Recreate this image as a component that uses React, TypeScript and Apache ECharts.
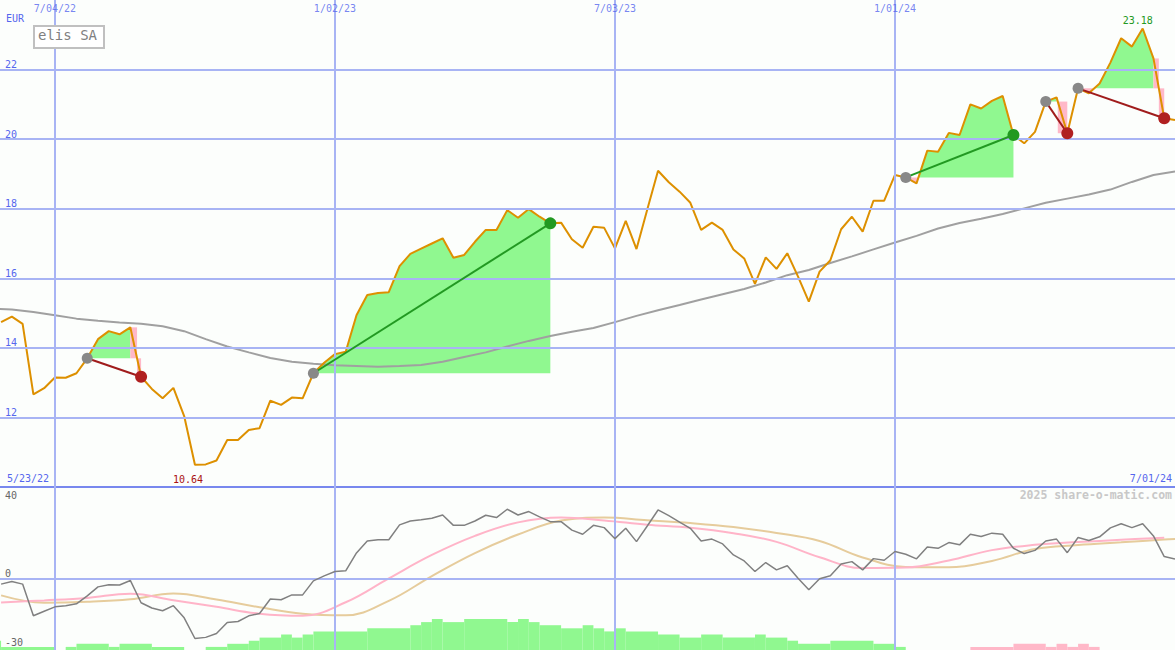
import React, { useEffect, useRef } from "react";
import * as echarts from "echarts";

// ---------- data (x = week index, week 0 = 7/04/22) ----------
const PRICE_FIRST_WEEK = -5;
const price = [
  14.74, 14.9, 14.69, 12.66, 12.84, 13.15, 13.14, 13.27, 13.7, 14.25,
  14.48, 14.39, 14.59, 13.17, 12.82, 12.55, 12.85, 12.04, 10.64, 10.65,
  10.76, 11.35, 11.35, 11.64, 11.69, 12.48, 12.36, 12.57, 12.55, 13.27,
  13.57, 13.82, 13.89, 14.94, 15.52, 15.58, 15.6, 16.35, 16.7, 16.85,
  17.0, 17.15, 16.59, 16.67, 17.05, 17.39, 17.39, 17.96, 17.74, 17.99,
  17.77, 17.58, 17.6, 17.12, 16.88, 17.48, 17.45, 16.86, 17.65, 16.84,
  17.98, 19.09, 18.76, 18.49, 18.17, 17.39, 17.6, 17.39, 16.83, 16.57,
  15.84, 16.6, 16.27, 16.72, 16.05, 15.33, 16.19, 16.52, 17.41, 17.77,
  17.34, 18.23, 18.23, 18.97, 18.9, 18.73, 19.67, 19.64, 20.18, 20.12,
  21.0, 20.88, 21.1, 21.24, 20.12, 19.88, 20.21, 21.08, 21.2, 20.17,
  21.46, 21.32, 21.6, 22.2, 22.9, 22.66, 23.18, 22.32, 20.6, 20.55,
];

const MA_FIRST_WEEK = -6; // every 2 weeks
const movingAverage = [
  15.13, 15.1, 15.03, 14.94, 14.84, 14.78, 14.73, 14.69, 14.62, 14.48,
  14.25, 14.04, 13.87, 13.71, 13.6, 13.54, 13.5, 13.48, 13.46, 13.48,
  13.51, 13.6, 13.74, 13.87, 14.04, 14.2, 14.34, 14.46, 14.57, 14.74,
  14.92, 15.08, 15.23, 15.39, 15.54, 15.69, 15.88, 16.09, 16.24, 16.44,
  16.63, 16.83, 17.03, 17.22, 17.43, 17.59, 17.71, 17.85, 18.01, 18.17,
  18.29, 18.41, 18.55, 18.77, 18.97, 19.07,
];

const MOM_FIRST_WEEK = -5;
const momentum = [
  -2.3, -1.2, -2.3, -16.1, -14.1, -12.2, -11.7, -10.9, -7.4, -3.5,
  -2.6, -2.7, -0.7, -10.4, -12.7, -13.9, -11.7, -17.0, -26.0, -25.5,
  -23.8, -19.0, -18.6, -16.1, -15.1, -8.8, -9.1, -7.0, -7.0, -0.9,
  1.3, 3.2, 3.5, 11.3, 16.5, 17.0, 17.0, 23.5, 25.2, 25.7,
  26.4, 27.8, 23.3, 23.3, 25.2, 27.7, 26.7, 30.3, 27.8, 29.3,
  27.0, 24.9, 24.9, 21.2, 19.4, 23.3, 22.3, 17.5, 22.0, 16.2,
  23.0, 30.0, 27.5, 24.7, 22.0, 16.5, 17.3, 15.2, 10.4, 7.8,
  3.2, 7.1, 3.9, 5.7, 0.3, -4.8, 0.0, 1.3, 6.5, 7.5,
  3.9, 8.8, 8.1, 11.9, 10.7, 8.7, 13.9, 13.3, 15.8, 14.8,
  19.4, 18.4, 19.9, 19.4, 13.3, 11.0, 12.4, 16.5, 17.3, 11.4,
  18.0, 16.7, 18.3, 22.2, 24.0, 22.3, 24.0, 18.7, 9.7, 8.6,
];

const AVG_WEEKS = [-5, -1, 3, 7, 11, 15, 19, 23, 27, 31, 35, 39, 43, 47, 51, 55, 59, 63, 67, 71, 75, 79, 83, 87, 91, 95, 99, 103, 104];
const pinkAverage = [
  -10.3, -9.4, -8.3, -6.5, -9.3, -12.2, -15.2, -16.1, -10.2, 0.2,
  10.4, 18.7, 24.6, 26.7, 25.4, 23.6, 22.3, 19.9, 16.1, 9.4,
  4.7, 4.9, 8.0, 12.5, 14.8, 16.0, 17.0, 17.9,
];
const tanAverage = [
  -7.2, -10.4, -10.0, -8.9, -6.4, -9.0, -12.4, -15.2, -15.9, -9.6,
  1.2, 11.2, 19.3, 25.4, 26.7, 25.5, 24.3, 22.6, 20.0, 16.5,
  9.3, 5.2, 5.0, 7.8, 13.0, 14.7, 15.9, 17.1, 17.3,
];

const BAR_FIRST_WEEK = -6;
const histogram = [
  3, 1, 1, 1, 1, 1, 0, 1, 2, 2,
  2, 1, 2, 2, 2, 1, 1, 1, 0, 0,
  1, 1, 2, 2, 3, 4, 4, 5, 4, 5,
  6, 6, 6, 6, 6, 7, 7, 7, 7, 8,
  9, 10, 9, 9, 10, 10, 10, 10, 9, 10,
  9, 8, 8, 7, 7, 8, 7, 6, 7, 6,
  6, 6, 5, 5, 4, 4, 5, 5, 4, 4,
  4, 5, 4, 4, 3, 2, 2, 2, 3, 3,
  3, 3, 2, 2, 1, 0, 0, 0, 0, 0,
  0, -1, -1, -1, -1, -2, -2, -2, -1, -2,
  -1, -2, -1, 0, 0, 0, 0, 0, 0, 0,
  0,
];

const dateTickWeeks = [0, 26, 52, 78];
const dateTickLabels = ["7/04/22", "1/02/23", "7/03/23", "1/01/24"];
const priceTicks = [12, 14, 16, 18, 20, 22];
const lowerTicks = [-30, 0];

const tradeEntry = [3, 24, 79, 92, 95];
const tradeExit = [8, 46, 89, 94, 103];

const startDate = "5/23/22";
const endDate = "7/01/24";
const title = "elis SA";
const currency = "EUR";
const credit = "2025 share-o-matic.com";

// ---------- styles ----------
const BG = "#fcfefc";
const GRID = "#a8b4f4";
const SEP = "#7888ee";
const BLUE = "#5566ee";
const MONO = "'DejaVu Sans Mono', monospace";
const GREEN_FILL = "#90f890";
const PINK_FILL = "#ffb8c8";

const priceOf = (w: number) => price[w - PRICE_FIRST_WEEK];

function buildOption() {
  const priceData = price.map((v, i) => [i + PRICE_FIRST_WEEK, v]);
  const maData = movingAverage.map((v, i) => [i * 2 + MA_FIRST_WEEK, v]);
  const momData = momentum.map((v, i) => [i + MOM_FIRST_WEEK, v]);
  const pinkData = pinkAverage.map((v, i) => [AVG_WEEKS[i], v]);
  const tanData = tanAverage.map((v, i) => [AVG_WEEKS[i], v]);

  // merge consecutive equal histogram values into runs [startWeek, endWeek, value]
  const histRuns: number[][] = [];
  histogram.forEach((v, i) => {
    const w = i + BAR_FIRST_WEEK;
    const last = histRuns[histRuns.length - 1];
    if (last && last[2] === v && last[1] === w) last[1] = w + 1;
    else histRuns.push([w, w + 1, v]);
  });

  const fillRender = (params: any, api: any) => {
    const idx = api.value(2);
    const e = tradeEntry[idx];
    const x = tradeExit[idx];
    const base = priceOf(e);
    const P = (w: number, v: number) => api.coord([w, v]);
    const children: any[] = [];
    const poly = (pts: number[][], fill: string) =>
      children.push({ type: "polygon", shape: { points: pts }, style: { fill } });
    const rect = (a: number[], b: number[], fill: string) =>
      children.push({
        type: "rect",
        shape: { x: Math.min(a[0], b[0]), y: Math.min(a[1], b[1]), width: Math.abs(b[0] - a[0]), height: Math.abs(b[1] - a[1]) },
        style: { fill },
      });
    let run: { fill: string; pts: number[][]; ws: number; we: number } | null = null;
    const flush = () => {
      if (run) {
        poly([...run.pts, P(run.we, base), P(run.ws, base)], run.fill);
        run = null;
      }
    };
    const extend = (fill: string, w0: number, v0: number, w1: number, v1: number) => {
      if (!run || run.fill !== fill) {
        flush();
        run = { fill, pts: [P(w0, v0)], ws: w0, we: w0 };
      }
      run.pts.push(P(w1, v1));
      run.we = w1;
    };
    for (let w = e; w < x; w++) {
      const p0 = priceOf(w);
      const p1 = priceOf(w + 1);
      const a0 = p0 - base;
      const a1 = p1 - base;
      if (a0 >= 0 && a1 >= 0) {
        extend(GREEN_FILL, w, p0, w + 1, p1);
      } else if (a0 <= 0 && a1 <= 0) {
        extend(PINK_FILL, w, p0, w + 1, p1);
      } else {
        const wc = w + a0 / (a0 - a1);
        if (a0 > 0) {
          flush();
          rect(P(w, p0), P(wc, base), PINK_FILL);
          rect(P(wc, base), P(w + 1, p1), PINK_FILL);
        } else {
          extend(PINK_FILL, w, p0, wc, base);
          flush();
          extend(GREEN_FILL, wc, base, w + 1, p1);
        }
      }
    }
    flush();
    return { type: "group", children };
  };

  const barRender = (params: any, api: any) => {
    const w0 = api.value(0);
    const w1 = api.value(1);
    const v = api.value(2);
    if (!v) return null;
    const a = api.coord([w0, Math.abs(v)]);
    const b = api.coord([w1, 0]);
    return {
      type: "rect",
      shape: { x: a[0], y: a[1], width: b[0] - a[0], height: b[1] - a[1] },
      style: { fill: v > 0 ? GREEN_FILL : PINK_FILL },
    };
  };

  const wins = tradeEntry.map((e, i) => priceOf(tradeExit[i]) > priceOf(e));
  const labelFont = { fontFamily: MONO, fontSize: 10 };

  return {
    animation: false,
    backgroundColor: BG,
    grid: [
      { left: 0, right: 0, top: 0, height: 487 },
      { left: 0, right: 0, top: 487, height: 163 },
    ],
    xAxis: [
      {
        gridIndex: 0, type: "value", min: -5.1, max: 104,
        axisLine: { show: true, onZero: false, lineStyle: { color: SEP, width: 2 } },
        axisTick: { show: false }, axisLabel: { show: false }, splitLine: { show: false },
      },
      {
        gridIndex: 1, type: "value", min: -5.1, max: 104,
        axisLine: { show: false }, axisTick: { show: false }, axisLabel: { show: false }, splitLine: { show: false },
      },
    ],
    yAxis: [
      {
        gridIndex: 0, type: "value", min: 10, max: 24, interval: 2,
        axisLine: { show: false }, axisTick: { show: false }, splitLine: { show: false },
        axisLabel: {
          inside: true, margin: 5, verticalAlign: "bottom", color: BLUE, ...labelFont,
          formatter: (v: number) => (priceTicks.includes(v) ? String(v) : ""),
        },
      },
      {
        gridIndex: 1, type: "value", min: -31, max: 40,
        axisLine: { show: false }, axisTick: { show: false }, splitLine: { show: false },
        axisLabel: {
          inside: true, margin: 5, verticalAlign: "bottom", color: "#666", ...labelFont,
          customValues: lowerTicks,
          formatter: (v: number) => (lowerTicks.includes(v) ? String(v) : ""),
        },
      },
      { gridIndex: 1, type: "value", min: 0, max: 52.6, show: false },
    ],
    graphic: [
      { type: "text", left: 6, top: 13, z: 100, style: { text: currency, font: `10px ${MONO}`, fill: BLUE } },
      { type: "rect", left: 33, top: 25, z: 100, shape: { width: 70, height: 22 }, style: { fill: "#ffffff", stroke: "#c0c0c0", lineWidth: 2 } },
      { type: "text", left: 38, top: 28, z: 101, style: { text: title, font: `14px ${MONO}`, fill: "#808080" } },
      { type: "text", left: 5, top: 490, z: 100, style: { text: "40", font: `10px ${MONO}`, fill: "#666" } },
      { type: "text", left: 7, top: 473, z: 100, style: { text: startDate, font: `10px ${MONO}`, fill: BLUE } },
      { type: "text", right: 3, top: 473, z: 100, style: { text: endDate, font: `10px ${MONO}`, fill: BLUE } },
      { type: "text", right: 3, top: 489, z: 100, style: { text: credit, font: `bold 11.5px ${MONO}`, fill: "#c8c8c8" } },
    ],
    series: [
      {
        name: "grid-main", type: "line", xAxisIndex: 0, yAxisIndex: 0, data: [], z: 1, silent: true,
        markLine: {
          silent: true, symbol: ["none", "none"], label: { show: false },
          lineStyle: { color: GRID, width: 2, type: "solid" },
          data: [...dateTickWeeks.map((w) => ({ xAxis: w })), ...priceTicks.map((v) => ({ yAxis: v }))],
        },
      },
      {
        name: "grid-lower", type: "line", xAxisIndex: 1, yAxisIndex: 1, data: [], z: 1, silent: true,
        markLine: {
          silent: true, symbol: ["none", "none"], label: { show: false },
          lineStyle: { color: GRID, width: 2, type: "solid" },
          data: [...dateTickWeeks.map((w) => ({ xAxis: w })), { yAxis: 0 }],
        },
      },
      {
        name: "fills", type: "custom", xAxisIndex: 0, yAxisIndex: 0, z: 2, silent: true, clip: true,
        renderItem: fillRender,
        data: tradeEntry.map((e, i) => [e, priceOf(e), i]),
      },
      {
        name: "average", type: "line", xAxisIndex: 0, yAxisIndex: 0, z: 3, data: maData,
        symbol: "none", lineStyle: { color: "#a0a0a0", width: 2 }, silent: true,
      },
      {
        name: title, type: "line", xAxisIndex: 0, yAxisIndex: 0, z: 4, data: priceData,
        symbol: "none", lineStyle: { color: "#dd9000", width: 2 }, silent: true,
        markPoint: {
          symbol: "circle", symbolSize: 1, itemStyle: { color: "rgba(0,0,0,0)" }, silent: true,
          data: [
            {
              type: "max", valueDim: "y",
              label: { show: true, position: "top", distance: 3, offset: [-5, 0], color: "#229922", ...labelFont, formatter: (p: any) => Number(p.value).toFixed(2) },
            },
            {
              type: "min", valueDim: "y",
              label: { show: true, position: "bottom", distance: 9, offset: [-7, 0], color: "#aa1111", ...labelFont, formatter: (p: any) => Number(p.value).toFixed(2) },
            },
          ],
        },
      },
      {
        name: "trades", type: "lines", coordinateSystem: "cartesian2d", xAxisIndex: 0, yAxisIndex: 0, z: 5, silent: true,
        lineStyle: { width: 2, opacity: 1 },
        data: tradeEntry.map((e, i) => ({
          coords: [[e, priceOf(e)], [tradeExit[i], priceOf(tradeExit[i])]],
          lineStyle: { color: wins[i] ? "#229922" : "#a01c1c", width: 2, opacity: 1 },
        })),
      },
      {
        name: "entries", type: "scatter", xAxisIndex: 0, yAxisIndex: 0, z: 6, silent: true,
        symbolSize: 11, itemStyle: { color: "#888888", opacity: 1 },
        data: tradeEntry.map((e) => [e, priceOf(e)]),
      },
      {
        name: "exits", type: "scatter", xAxisIndex: 0, yAxisIndex: 0, z: 6, silent: true,
        symbolSize: 12,
        data: tradeExit.map((x, i) => ({ value: [x, priceOf(x)], itemStyle: { color: wins[i] ? "#229922" : "#b02020", opacity: 1 } })),
      },
      {
        name: "dates", type: "scatter", xAxisIndex: 0, yAxisIndex: 0, z: 7, silent: true, symbolSize: 0,
        data: dateTickWeeks.map((w, i) => ({
          value: [w, 23.99],
          label: { show: true, position: "bottom", distance: 3, formatter: dateTickLabels[i], color: BLUE, ...labelFont },
        })),
      },
      {
        name: "histogram", type: "custom", xAxisIndex: 1, yAxisIndex: 2, z: 2, silent: true, clip: true,
        renderItem: barRender, data: histRuns,
        encode: { x: [0, 1], y: 2 },
      },
      {
        name: "tan", type: "line", xAxisIndex: 1, yAxisIndex: 1, z: 3, data: tanData, smooth: 0.4,
        symbol: "none", lineStyle: { color: "#e6cc9c", width: 2 }, silent: true,
      },
      {
        name: "pink", type: "line", xAxisIndex: 1, yAxisIndex: 1, z: 4, data: pinkData, smooth: 0.4,
        symbol: "none", lineStyle: { color: "#ffb4c8", width: 2 }, silent: true,
      },
      {
        name: "momentum", type: "line", xAxisIndex: 1, yAxisIndex: 1, z: 5, data: momData,
        symbol: "none", lineStyle: { color: "#808080", width: 1.5 }, silent: true,
      },
    ],
  };
}

export default function App() {
  const ref = useRef<HTMLDivElement>(null);
  useEffect(() => {
    document.body.style.margin = "0";
    const chart = echarts.init(ref.current as HTMLDivElement, undefined, { renderer: "svg" });
    chart.setOption(buildOption() as any);
    return () => chart.dispose();
  }, []);
  return <div ref={ref} style={{ width: 1175, height: 650, background: BG }} />;
}
